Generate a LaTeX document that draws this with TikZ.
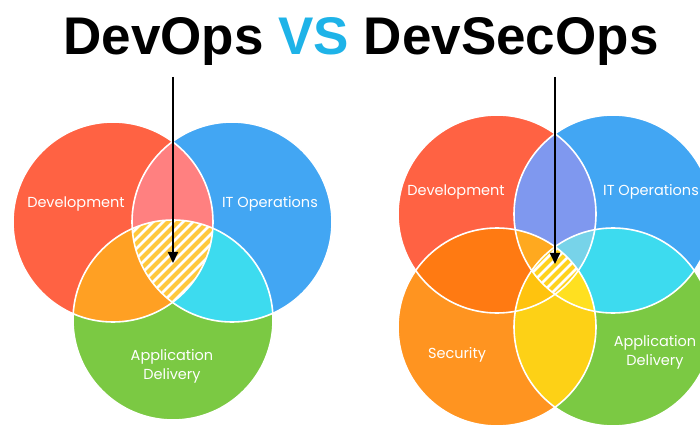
\documentclass[tikz,border=0pt]{standalone}
\usepackage{fontspec}
\setmainfont{Poppins}
\newfontfamily\headfamily{Liberation Sans}
\usetikzlibrary{arrows.meta}

% region colours
\definecolor{devred}{HTML}{FF6243}
\definecolor{opsblue}{HTML}{42A6F3}
\definecolor{delgreen}{HTML}{7BC943}
\definecolor{secorange}{HTML}{FF9420}
\definecolor{pinklens}{HTML}{FF8080}
\definecolor{orangelens}{HTML}{FFA023}
\definecolor{cyanlens}{HTML}{3DDBEF}
\definecolor{hatchyellow}{HTML}{FFC83D}
\definecolor{purplelens}{HTML}{7F98EF}
\definecolor{darkorange}{HTML}{FF7A12}
\definecolor{yellowlens}{HTML}{FDD116}
\definecolor{amber}{HTML}{FFA91F}
\definecolor{paleblue}{HTML}{77D3E9}
\definecolor{goldlens}{HTML}{FFC30E}
\definecolor{lemon}{HTML}{FFE020}
\definecolor{quadyellow}{HTML}{FFD21E}
\definecolor{vsblue}{HTML}{1EB3E8}

\begin{document}
\begin{tikzpicture}[x=1pt,y=-1pt,
  label/.style={text=white,font=\fontsize{14.5}{19}\selectfont,align=center,inner sep=0pt},
  rim/.style={draw=white,line width=1.6pt},
  stripe/.style={white,line width=2.6pt},
  pointer/.style={line width=2pt,-{Triangle[width=10pt,length=11pt]}}]

\useasboundingbox (0,0) rectangle (700,427);
\clip (0,0) rectangle (700,427);
\fill[white] (0,0) rectangle (700,427);

% ---------- DevOps: three circles ----------
\coordinate (R1) at (113,222);
\coordinate (B1) at (232,222);
\coordinate (G1) at (173,320);
\def\ra{100}

\fill[devred] (R1) circle (\ra);
\fill[opsblue] (B1) circle (\ra);
\fill[delgreen] (G1) circle (\ra);
\begin{scope}\clip (R1) circle (\ra); \fill[pinklens] (B1) circle (\ra);\end{scope}
\begin{scope}\clip (R1) circle (\ra); \fill[orangelens] (G1) circle (\ra);\end{scope}
\begin{scope}\clip (B1) circle (\ra); \fill[cyanlens] (G1) circle (\ra);\end{scope}
\begin{scope}
  \clip (R1) circle (\ra); \clip (B1) circle (\ra); \clip (G1) circle (\ra);
  \fill[hatchyellow] (G1) circle (\ra);
  \foreach \k in {-200,-190,...,200}
    \draw[stripe] ([shift={(\k-90,90)}]173,262) -- ([shift={(\k+90,-90)}]173,262);
\end{scope}
\foreach \c in {R1,B1,G1} \draw[rim] (\c) circle (\ra);

\node[label] (devL) at (76,204) {Development};
\node[label] (opsL) at (270,204) {IT Operations};
\node[label] (delL) at (172,366) {Application\\Delivery};

% ---------- DevSecOps: four circles ----------
\coordinate (R2) at (497,214);
\coordinate (B2) at (613,214);
\coordinate (O2) at (497,327);
\coordinate (G2) at (613,327);
\def\rb{99}

\fill[devred] (R2) circle (\rb);
\fill[opsblue] (B2) circle (\rb);
\fill[secorange] (O2) circle (\rb);
\fill[delgreen] (G2) circle (\rb);
\begin{scope}\clip (R2) circle (\rb); \fill[purplelens] (B2) circle (\rb);\end{scope}
\begin{scope}\clip (R2) circle (\rb); \fill[darkorange] (O2) circle (\rb);\end{scope}
\begin{scope}\clip (B2) circle (\rb); \fill[cyanlens] (G2) circle (\rb);\end{scope}
\begin{scope}\clip (O2) circle (\rb); \fill[yellowlens] (G2) circle (\rb);\end{scope}
\begin{scope}\clip (R2) circle (\rb); \clip (B2) circle (\rb); \fill[amber] (O2) circle (\rb);\end{scope}
\begin{scope}\clip (R2) circle (\rb); \clip (B2) circle (\rb); \fill[paleblue] (G2) circle (\rb);\end{scope}
\begin{scope}\clip (R2) circle (\rb); \clip (O2) circle (\rb); \fill[goldlens] (G2) circle (\rb);\end{scope}
\begin{scope}\clip (B2) circle (\rb); \clip (O2) circle (\rb); \fill[lemon] (G2) circle (\rb);\end{scope}
\begin{scope}
  \clip (R2) circle (\rb); \clip (B2) circle (\rb); \clip (O2) circle (\rb); \clip (G2) circle (\rb);
  \fill[quadyellow] (G2) circle (\rb);
  \foreach \k in {-100,-90,...,100}
    \draw[stripe] ([shift={(\k-60,60)}]555,270) -- ([shift={(\k+60,-60)}]555,270);
\end{scope}
\foreach \c in {R2,B2,O2,G2} \draw[rim] (\c) circle (\rb);

\node[label] (devR) at (456,192) {Development};
\node[label] (opsR) at (651,192) {IT Operations};
\node[label] (secR) at (457,355) {Security};
\node[label] (delR) at (655,352) {Application\\Delivery};

% ---------- title and pointers ----------
\node[font=\headfamily\bfseries\fontsize{53}{60}\selectfont,anchor=base,inner sep=0pt]
  (title) at (361,55) {DevOps \textcolor{vsblue}{VS} DevSecOps};

\coordinate (topL) at (173,77);
\coordinate (hubL) at (173,263);
\coordinate (topR) at (555,77);
\coordinate (hubR) at (555,264);
\draw[pointer] (topL) -- (hubL);
\draw[pointer] (topR) -- (hubR);
\end{tikzpicture}
\end{document}
